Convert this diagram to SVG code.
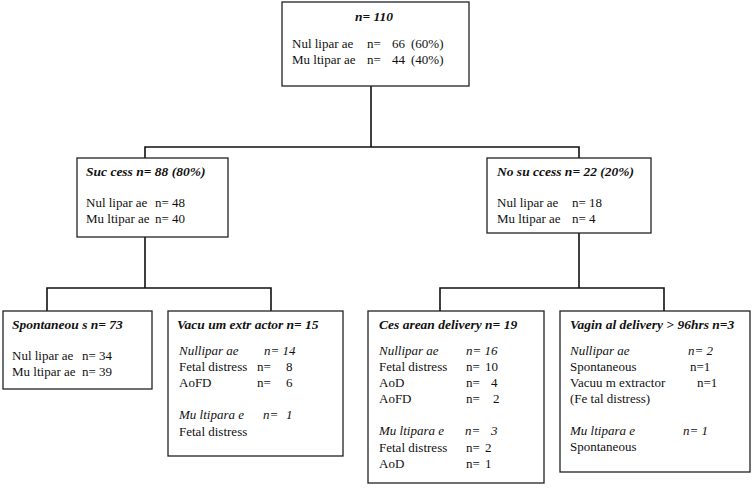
<svg xmlns="http://www.w3.org/2000/svg" width="753" height="491" viewBox="0 0 753 491">
<style>
text{font-family:"Liberation Serif","Times New Roman",serif;font-size:13px;fill:#111}
.t{font-weight:bold;font-style:italic;font-size:13.5px}
.i{font-style:italic}
.box{fill:#fff;stroke:#222;stroke-width:1.3}
.c{fill:none;stroke:#111;stroke-width:1.6}
</style>
<rect width="753" height="491" fill="#fff"/>
<g id="connectors">
<path class="c" d="M371,86 V147 M145,158 V147 H579 V158"/>
<path class="c" d="M145,237 V288 M47,311 V288 H271 V311"/>
<path class="c" d="M579,233 V288 M440,311 V288 H664 V311"/>
</g>
<g id="root">
<rect class="box" x="282" y="2" width="187" height="84"/>
<text class="t" x="355" y="21">n= 110</text>
<text x="292" y="48">Nul lipar ae</text><text x="367" y="48">n=</text><text x="392" y="48">66</text><text x="411" y="48">(60%)</text>
<text x="292" y="64">Mu ltipar ae</text><text x="367" y="64">n=</text><text x="392" y="64">44</text><text x="411" y="64">(40%)</text>
</g>
<g id="success">
<rect class="box" x="77" y="158" width="151" height="79"/>
<text class="t" x="86" y="176">Suc cess n= 88 (80%)</text>
<text x="86" y="207">Nul lipar ae</text><text x="155" y="207">n= 48</text>
<text x="86" y="223">Mu ltipar ae</text><text x="155" y="223">n= 40</text>
</g>
<g id="nosuccess">
<rect class="box" x="487" y="158" width="164" height="75"/>
<text class="t" x="497" y="176">No su ccess n= 22 (20%)</text>
<text x="497" y="207">Nul lipar ae</text><text x="572" y="207">n= 18</text>
<text x="497" y="223">Mu ltipar ae</text><text x="572" y="223">n= 4</text>
</g>
<g id="spontaneous">
<rect class="box" x="3" y="311" width="149" height="78"/>
<text class="t" x="12" y="329">Spontaneou s n= 73</text>
<text x="12" y="360">Nul lipar ae</text><text x="82" y="360">n= 34</text>
<text x="12" y="376">Mu ltipar ae</text><text x="82" y="376">n= 39</text>
</g>
<g id="vacuum">
<rect class="box" x="168" y="311" width="175" height="145"/>
<text class="t" x="177" y="329">Vacu um extr actor n= 15</text>
<text class="i" x="179" y="355">Nullipar ae</text><text class="i" x="264" y="355">n= 14</text>
<text x="179" y="371">Fetal distress</text><text x="257" y="371">n=</text><text x="286" y="371">8</text>
<text x="179" y="387">AoFD</text><text x="257" y="387">n=</text><text x="286" y="387">6</text>
<text class="i" x="179" y="419">Mu ltipara e</text><text class="i" x="263" y="419">n=</text><text class="i" x="286" y="419">1</text>
<text x="179" y="436">Fetal distress</text>
</g>
<g id="cesarean">
<rect class="box" x="368" y="311" width="176" height="172"/>
<text class="t" x="379" y="329">Ces arean delivery n= 19</text>
<text class="i" x="379" y="355">Nullipar ae</text><text class="i" x="466" y="355">n= 16</text>
<text x="379" y="371">Fetal distress</text><text x="466" y="371">n=</text><text x="485" y="371">10</text>
<text x="379" y="387">AoD</text><text x="466" y="387">n=</text><text x="491" y="387">4</text>
<text x="379" y="403">AoFD</text><text x="466" y="403">n=</text><text x="493" y="403">2</text>
<text class="i" x="379" y="435">Mu ltipara e</text><text class="i" x="465" y="435">n=</text><text class="i" x="491" y="435">3</text>
<text x="379" y="452">Fetal distress</text><text x="466" y="452">n=</text><text x="485" y="452">2</text>
<text x="379" y="468">AoD</text><text x="466" y="468">n=</text><text x="485" y="468">1</text>
</g>
<g id="vaginal">
<rect class="box" x="560" y="311" width="190" height="161"/>
<text class="t" x="570" y="329">Vagin al delivery &gt; 96hrs n=3</text>
<text class="i" x="570" y="355">Nullipar ae</text><text class="i" x="688" y="355">n= 2</text>
<text x="570" y="371">Spontaneous</text><text x="690" y="371">n=1</text>
<text x="570" y="387">Vacuu m extractor</text><text x="697" y="387">n=1</text>
<text x="570" y="403">(Fe tal distress)</text>
<text class="i" x="570" y="435">Mu ltipara e</text><text class="i" x="683" y="435">n= 1</text>
<text x="570" y="451">Spontaneous</text>
</g>
</svg>
